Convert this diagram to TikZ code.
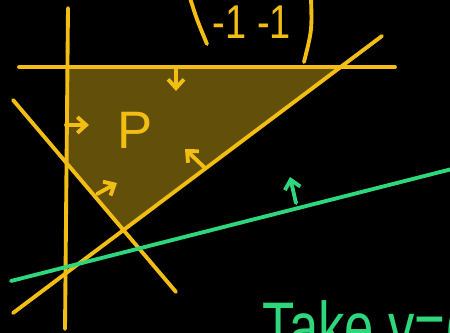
\documentclass[tikz,border=0pt]{standalone}
\usepackage{fontspec}
\setsansfont{Liberation Sans}
\usetikzlibrary{arrows.meta}
\definecolor{gold}{RGB}{242,190,20}
\definecolor{olive}{RGB}{98,80,10}
\definecolor{mint}{RGB}{46,214,124}
\begin{document}
\begin{tikzpicture}[x=0.02cm,y=-0.02cm,font=\sffamily,
  pen/.style={line width=2.2pt,line cap=round},
  arr/.style={pen,-{Straight Barb[length=5pt,width=9pt]}}]
\useasboundingbox (0,0) rectangle (450,333);
\fill[black] (0,0) rectangle (450,333);
\clip (0,0) rectangle (450,333);
% Ecken des Polyeders P
\coordinate (TL) at (67,67);
\coordinate (TR) at (338,67);
\coordinate (BM) at (124,229);
\coordinate (LM) at (67,163);
\fill[olive] (TL) -- (TR) -- (BM) -- (LM) -- cycle;
% Halbebenen
\draw[pen,gold] (68,8) -- (65,329);
\draw[pen,gold] (19,67) -- (395,67);
\draw[pen,gold] (13,100) -- (176,292);
\draw[pen,gold] (13,313) -- (382,36);
% Pfeile ins Innere
\draw[arr,gold] (176,69) -- (176,91);
\draw[arr,gold] (66,125) -- (89,125);
\draw[arr,gold] (97,194) -- (117,183);
\draw[arr,gold] (205,168) -- (185,149);
\node[gold,font=\sffamily\fontsize{30}{32}\selectfont] (P) at (135,130) {P};
% Zielfunktion
\draw[pen,mint] (11,281) -- (452,169);
\draw[arr,mint] (296,203) -- (290,177);
% Vektor oben
\draw[pen,gold] (190,-2) .. controls (197,20) .. (207,44);
\draw[pen,gold] (311,-2) .. controls (312,30) .. (304,62);
\node[gold,xscale=0.8,font=\sffamily\fontsize{27}{29}\selectfont] (c) at (252,22) {-1 -1};
\node[mint,anchor=base west,xscale=0.75,font=\sffamily\fontsize{40}{42}\selectfont] (take) at (258,352) {Take v=(};
\end{tikzpicture}
\end{document}
